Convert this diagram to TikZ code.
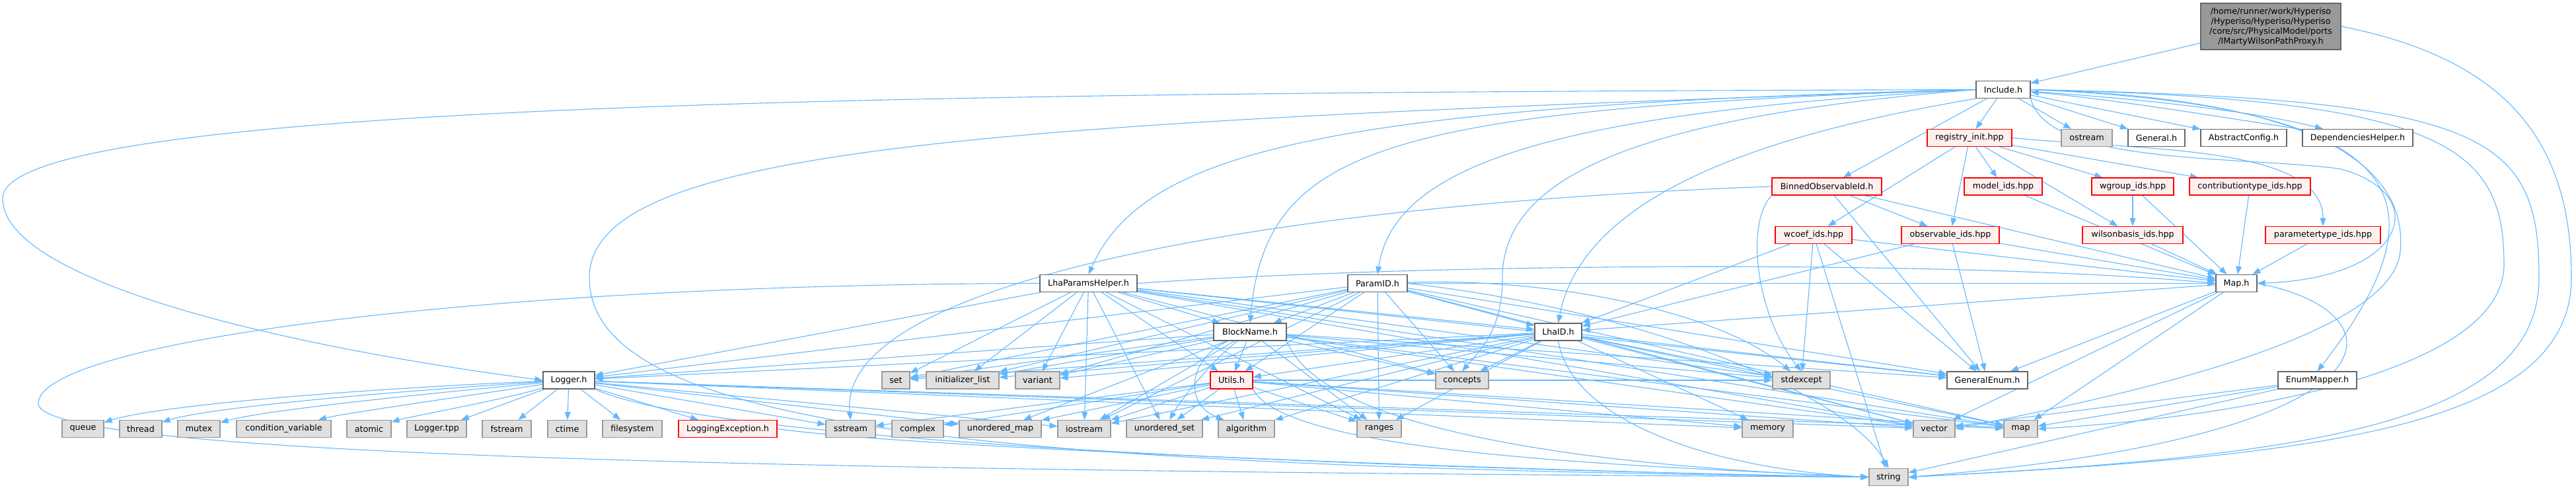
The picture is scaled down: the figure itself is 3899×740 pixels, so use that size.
\documentclass[tikz,border=0pt]{standalone}
\usepackage{fontspec}
\setmainfont{DejaVu Sans}
\usetikzlibrary{arrows.meta,backgrounds}
\definecolor{edgeblue}{HTML}{63B8FF}
\definecolor{boxgray}{HTML}{666666}
\definecolor{sysfill}{HTML}{E0E0E0}
\definecolor{sysline}{HTML}{999999}
\definecolor{redfill}{HTML}{FFF0F0}
\definecolor{rootfill}{HTML}{999999}
\tikzset{
  filebox/.style={draw=boxgray, fill=white, line width=1.2pt, minimum height=26, inner sep=0pt, font=\fontsize{12.7}{15}\selectfont},
  sysbox/.style={filebox, draw=sysline, fill=sysfill},
  redbox/.style={filebox, draw=red, fill=redfill},
  rootbox/.style={filebox, fill=rootfill, align=center, minimum height=70},
  incl/.style={draw=edgeblue, line width=1.1pt, -{Triangle[length=12pt,width=9pt]}},
}

\begin{document}
\begin{tikzpicture}[x=1pt,y=-1pt]
		\useasboundingbox (0,0) rectangle (3899,740);
		%%%%% NODES %%%%%
		\node[rootbox, minimum width=212] (root) at (3437,40) {/home/runner/work/Hyperiso\\/Hyperiso/Hyperiso/Hyperiso\\/core/src/PhysicalModel/ports\\/IMartyWilsonPathProxy.h};
		\node[filebox, minimum width=82] (include) at (3032,135.5) {Include.h};
		
		\node[redbox, minimum width=128] (registry) at (2981,208.5) {registry\_init.hpp};
		\node[sysbox, minimum width=77] (ostream) at (3158.5,208.5) {ostream};
		\node[filebox, minimum width=86] (general) at (3264,208.5) {General.h};
		\node[filebox, minimum width=130] (abstractcfg) at (3396,208.5) {AbstractConfig.h};
		\node[filebox, minimum width=167] (dephelper) at (3568.5,208.5) {DependenciesHelper.h};
		
		\node[redbox, minimum width=166] (binnedobs) at (2765,282) {BinnedObservableId.h};
		\node[redbox, minimum width=118] (modelids) at (3032,282) {model\_ids.hpp};
		\node[redbox, minimum width=124] (wgroupids) at (3228,282) {wgroup\_ids.hpp};
		\node[redbox, minimum width=183] (contribids) at (3405.5,282) {contributiontype\_ids.hpp};
		
		\node[redbox, minimum width=116] (wcoefids) at (2745,355.5) {wcoef\_ids.hpp};
		\node[redbox, minimum width=148] (obsids) at (2952,355.5) {observable\_ids.hpp};
		\node[redbox, minimum width=152] (wilsonids) at (3228,355.5) {wilsonbasis\_ids.hpp};
		\node[redbox, minimum width=174] (paramtypeids) at (3516,355.5) {parametertype\_ids.hpp};
		
		\node[filebox, minimum width=147] (lhaparams) at (1647.5,428.5) {LhaParamsHelper.h};
		\node[filebox, minimum width=90] (paramid) at (2085,428.5) {ParamID.h};
		\node[filebox, minimum width=62] (mapH) at (3385,428.5) {Map.h};
		
		\node[filebox, minimum width=110] (blockname) at (1892,502) {BlockName.h};
		\node[filebox, minimum width=71] (lhaid) at (2358.5,502) {LhaID.h};
		
		\node[filebox, minimum width=78] (logger) at (861,575) {Logger.h};
		\node[sysbox, minimum width=42] (set) at (1356,575) {set};
		\node[sysbox, minimum width=110] (initlist) at (1457,575) {initializer\_list};
		\node[sysbox, minimum width=67] (variant) at (1570.5,575) {variant};
		\node[redbox, minimum width=64] (utils) at (1864,575) {Utils.h};
		\node[sysbox, minimum width=80] (concepts) at (2213,575) {concepts};
		\node[sysbox, minimum width=87] (stdexcept) at (2726.5,575) {stdexcept};
		\node[filebox, minimum width=122] (genenum) at (3008,575) {GeneralEnum.h};
		\node[filebox, minimum width=119] (enummapper) at (3507.5,575) {EnumMapper.h};
		
		\node[sysbox, minimum width=63] (queue) at (125.5,648.5) {queue};
		\node[sysbox, minimum width=64] (thread) at (213,648.5) {thread};
		\node[sysbox, minimum width=64] (mutex) at (301,648.5) {mutex};
		\node[sysbox, minimum width=143] (condvar) at (429.5,648.5) {condition\_variable};
		\node[sysbox, minimum width=67] (atomic) at (558.5,648.5) {atomic};
		\node[sysbox, minimum width=90] (loggertpp) at (661,648.5) {Logger.tpp};
		\node[sysbox, minimum width=74] (fstream) at (767,648.5) {fstream};
		\node[sysbox, minimum width=59] (ctime) at (858.5,648.5) {ctime};
		\node[sysbox, minimum width=90] (filesystem) at (957,648.5) {filesystem};
		\node[redbox, minimum width=149] (logexc) at (1101.5,648.5) {LoggingException.h};
		\node[sysbox, minimum width=75] (sstream) at (1287.5,648.5) {sstream};
		\node[sysbox, minimum width=78] (complex) at (1389,648.5) {complex};
		\node[sysbox, minimum width=124] (umap) at (1514,648.5) {unordered\_map};
		\node[sysbox, minimum width=80] (iostream) at (1641,648.5) {iostream};
		\node[sysbox, minimum width=115] (uset) at (1762.5,648.5) {unordered\_set};
		\node[sysbox, minimum width=85] (algorithm) at (1886.5,648.5) {algorithm};
		\node[sysbox, minimum width=67] (ranges) at (2087.5,648.5) {ranges};
		\node[sysbox, minimum width=77] (memory) at (2675.5,648.5) {memory};
		\node[sysbox, minimum width=63] (vector) at (2927.5,648.5) {vector};
		\node[sysbox, minimum width=51] (map) at (3058.5,648.5) {map};
		
		\node[sysbox, minimum width=59] (string) at (2858.5,721.5) {string};
		
		%%%%% EDGES %%%%%
		\begin{scope}[on background layer]
		\draw[incl] (root) -- (include);
		\draw[incl] (root.east) .. controls (3800,90) and (3892,220) .. (3892,420) .. controls (3892,650) and (3500,690) .. (string.east);
		
		\foreach \t in {registry,ostream,general,abstractcfg,binnedobs}
			\draw[incl] (include) -- (\t);
		\draw[incl] (include) .. controls (3250,150) and (3420,170) .. (dephelper);
		\draw[incl] (dephelper) .. controls (3380,180) and (3200,150) .. (include);
		\draw[incl] (include.west) .. controls (1500,140) and (4,150) .. (4,300) .. controls (4,420) and (400,520) .. (logger.west);
		\draw[incl] (include.west) .. controls (1500,185) and (892,220) .. (892,420) .. controls (892,650) and (1500,705) .. (string.west);
		\draw[incl] (include.west) .. controls (2000,160) and (1730,230) .. (lhaparams.north);
		\draw[incl] (include.west) .. controls (2100,165) and (1915,220) .. (blockname.north);
		\draw[incl] (include.west) .. controls (2350,170) and (2110,250) .. (paramid.north);
		\draw[incl] (include.west) .. controls (2500,175) and (2274,260) .. (2274,420) .. controls (2274,500) and (2240,530) .. (concepts.north);
		\draw[incl] (include.south west) .. controls (2750,190) and (2400,270) .. (lhaid.north);
		\draw[incl] (include.south east) .. controls (3100,250) and (3380,235) .. (3540,255) .. controls (3680,290) and (3650,420) .. (mapH.east);
		\draw[incl] (include.east) .. controls (3600,150) and (3640,300) .. (3633,380) .. controls (3620,520) and (3150,610) .. (vector.east);
		\draw[incl] (include.east) .. controls (3650,160) and (3712,300) .. (enummapper.north);
		\draw[incl] (include.east) .. controls (3700,150) and (3790,220) .. (3790,400) .. controls (3790,560) and (3400,630) .. (map.east);
		\draw[incl] (include.east) .. controls (3760,150) and (3843,200) .. (3843,420) .. controls (3843,640) and (3500,690) .. (string.east);
		
		\foreach \t in {modelids,wgroupids,contribids,wcoefids,obsids,wilsonids}
			\draw[incl] (registry) -- (\t);
		\draw[incl] (registry.east) .. controls (3250,228) and (3516,220) .. (paramtypeids.north);
		
		\foreach \t in {obsids,mapH,genenum}
			\draw[incl] (binnedobs) -- (\t);
		\draw[incl] (binnedobs.south west) .. controls (2640,340) and (2660,480) .. (stdexcept.north);
		\draw[incl] (binnedobs.west) .. controls (1900,310) and (1265,430) .. (sstream.north);
		\draw[incl] (modelids) -- (mapH);
		\draw[incl] (wgroupids) -- (wilsonids);
		\draw[incl] (wgroupids) -- (mapH);
		\draw[incl] (contribids) -- (mapH);
		\draw[incl] (wilsonids) -- (mapH);
		\draw[incl] (paramtypeids) -- (mapH);
		\foreach \t in {mapH,lhaid,stdexcept,genenum,string}
			\draw[incl] (wcoefids) -- (\t);
		\foreach \t in {mapH,lhaid,genenum}
			\draw[incl] (obsids) -- (\t);
		
		\foreach \t in {lhaid,genenum,vector,map}
			\draw[incl] (mapH) -- (\t);
		\draw[incl] (mapH.east) .. controls (3640,470) and (3660,660) .. (string.east);
		\foreach \t in {map,vector,string}
			\draw[incl] (enummapper) -- (\t);
		
		% LhaParamsHelper.h
		\foreach \t in {logger,blockname,utils,set,initlist,variant,iostream,uset,lhaid,stdexcept,genenum,vector,map,ranges,concepts}
			\draw[incl] (lhaparams) -- (\t);
		\draw[incl] (lhaparams.east) .. controls (2200,395) and (3000,395) .. (mapH.west);
		\draw[incl] (lhaparams.west) .. controls (700,430) and (58,520) .. (58,610) .. controls (58,690) and (1200,712) .. (string.west);
		
		% ParamID.h
		\foreach \t in {blockname,lhaid,utils,logger,set,initlist,variant,concepts,ranges,genenum,vector,map,iostream,mapH}
			\draw[incl] (paramid) -- (\t);
		\draw[incl] (paramid) .. controls (2350,420) and (2600,470) .. (stdexcept);
		\draw[incl] (paramid.east) .. controls (2500,470) and (2800,600) .. (string.north);
		
		% BlockName.h
		\foreach \t in {utils,logger,set,initlist,variant,iostream,ranges,concepts,stdexcept,genenum,vector,map,umap}
			\draw[incl] (blockname) -- (\t);
		\draw[incl] (blockname) .. controls (1800,540) and (1790,610) .. (algorithm);
		\draw[incl] (blockname) .. controls (1840,540) and (1790,600) .. (uset);
		\draw[incl] (blockname.south east) .. controls (2000,650) and (2400,705) .. (string.west);
		
		% LhaID.h
		\foreach \t in {logger,utils,set,initlist,variant,concepts,ranges,algorithm,iostream,uset,stdexcept,genenum,vector,map,memory}
			\draw[incl] (lhaid) -- (\t);
		\draw[incl] (lhaid.south) .. controls (2380,640) and (2600,710) .. (string.west);
		
		% Utils.h
		\foreach \t in {complex,umap,iostream,uset,algorithm,ranges,vector,map,stdexcept,memory,sstream}
			\draw[incl] (utils) -- (\t);
		\draw[incl] (utils.south east) .. controls (1950,690) and (2500,705) .. (string.west);
		
		% Logger.h
		\draw[incl] (logger) .. controls (600,585) and (250,610) .. (queue);
		\draw[incl] (logger) .. controls (620,590) and (320,615) .. (thread);
		\draw[incl] (logger) .. controls (650,595) and (400,620) .. (mutex);
		\draw[incl] (logger) .. controls (700,600) and (520,625) .. (condvar);
		\draw[incl] (logger) .. controls (760,605) and (620,630) .. (atomic);
		\foreach \t in {loggertpp,fstream,ctime,filesystem,logexc,sstream,iostream,umap,memory,vector,map}
			\draw[incl] (logger) -- (\t);
		\draw[incl] (logger.south east) .. controls (1100,680) and (2300,712) .. (string.west);
		\draw[incl] (logexc.east) .. controls (1400,680) and (2400,715) .. (string.west);
		\end{scope}
	\end{tikzpicture}
\end{document}
